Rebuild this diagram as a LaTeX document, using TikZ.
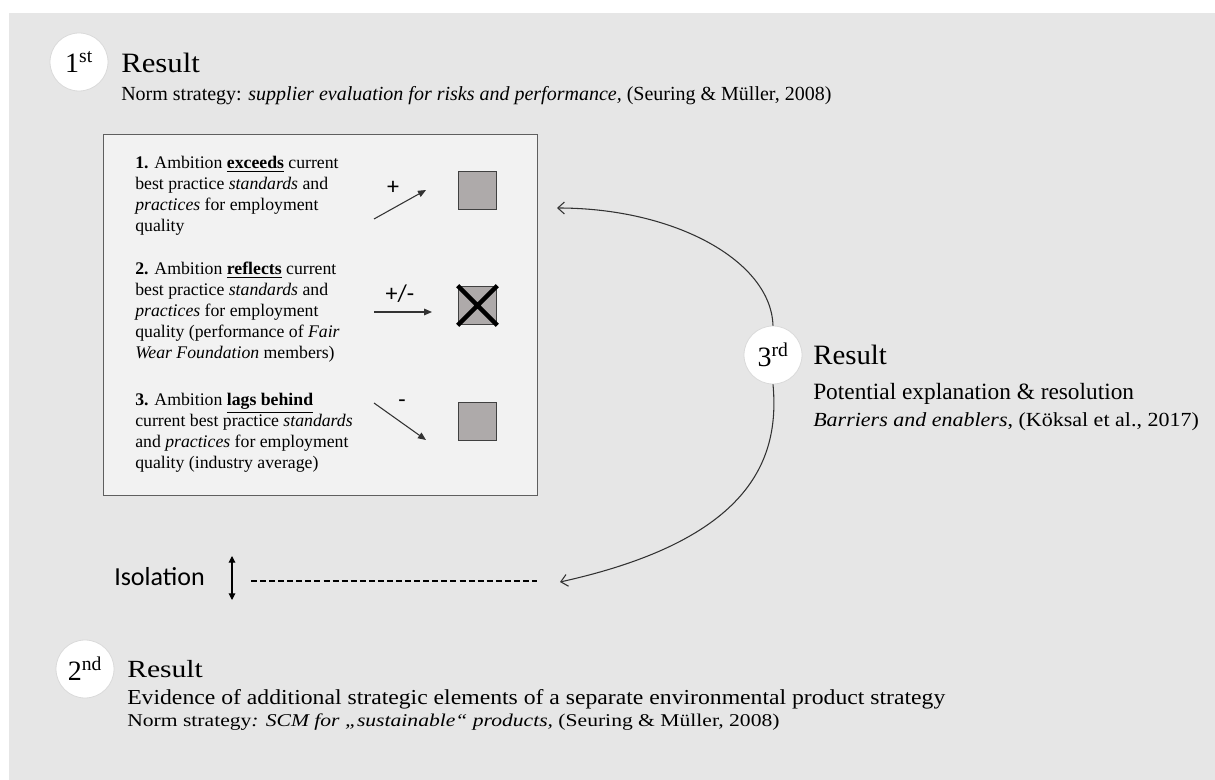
\documentclass[tikz,border=0pt]{standalone}
\usepackage{fontspec}
\setmainfont{Liberation Serif}
\newfontfamily\calib{Carlito}
\usetikzlibrary{arrows.meta}

\definecolor{bggray}{RGB}{230,230,230}
\definecolor{boxfill}{RGB}{242,242,242}
\definecolor{boxline}{RGB}{95,95,95}
\definecolor{sqfill}{RGB}{174,170,170}
\definecolor{sqline}{RGB}{64,64,64}
\definecolor{ringline}{RGB}{218,218,218}
\definecolor{curveline}{RGB}{50,50,50}

% horizontally widened text
\newcommand{\widen}[2]{\scalebox{#1}[1]{#2}}

\begin{document}
\begin{tikzpicture}[x=0.75pt,y=-0.75pt,
  badge/.style={circle,fill=white,draw=ringline,line width=0.6pt,
    minimum size=43.5pt,inner sep=0pt,font=\fontsize{21}{24}\selectfont},
  plain/.style={anchor=base west,inner sep=0pt},
  itemtext/.style={anchor=base west,inner sep=0pt,align=left,
    font=\fontsize{13.3}{15.75}\selectfont},
  rating/.style={draw=sqline,line width=1.2pt,fill=sqfill,minimum size=28.5pt,
    inner sep=0pt},
  sign/.style={inner sep=0pt,font=\calib\fontsize{18}{20}\selectfont},
  trend/.style={draw=black!80,line width=0.8pt,-{Triangle[length=6pt,width=5pt]}},
  loop/.style={draw=curveline,line width=0.8pt,-{Straight Barb[length=5pt,width=9pt]}},
]
\useasboundingbox (0,0) rectangle (1215,780);
\fill[bggray] (9,13) rectangle (1215,780);

% ---- first result ----
\node[badge] (c1) at (79,62) {1\textsuperscript{st}};
\node[plain,font=\fontsize{21}{24}\selectfont] (r1) at (121,73) {\widen{1.1}{Result}};
\node[plain,font=\fontsize{15}{17}\selectfont] (n1) at (121,101)
  {Norm strategy: \textit{supplier evaluation for risks and performance,} (Seuring \& Müller, 2008)};

% ---- ambition box ----
\node[draw=boxline,line width=0.8pt,fill=boxfill,minimum width=325.5pt,
  minimum height=270.75pt,inner sep=0pt,anchor=north west] (box) at (103,134) {};

% each item is placed by the baseline of its last line
\node[itemtext] (i1) at (135,232) {\textbf{1.} Ambition \underline{\textbf{exceeds}} current\\
best practice \textit{standards} and\\
\textit{practices} for employment\\
quality};
\node[itemtext] (i2) at (135,359) {\textbf{2.} Ambition \underline{\textbf{reflects}} current\\
best practice \textit{standards} and\\
\textit{practices} for employment\\
quality (performance of \textit{Fair}\\
\textit{Wear Foundation} members)};
\node[itemtext] (i3) at (135,469) {\textbf{3.} Ambition \underline{\textbf{lags behind}}\\
current best practice \textit{standards}\\
and \textit{practices} for employment\\
quality (industry average)};

\node[rating] (s1) at (477.5,190.5) {};
\node[rating] (s2) at (477.5,305.5) {};
\node[rating] (s3) at (477.5,421.5) {};
\draw[line width=3.2pt,line cap=butt] (s2.north west) -- (s2.south east)
  (s2.north east) -- (s2.south west);

\coordinate (a1s) at (374,219); \coordinate (a1e) at (426,190);
\coordinate (a2s) at (374,312); \coordinate (a2e) at (432,312);
\coordinate (a3s) at (374,403); \coordinate (a3e) at (426,440);
\draw[trend] (a1s) -- (a1e);
\draw[trend] (a2s) -- (a2e);
\draw[trend] (a3s) -- (a3e);
\node[sign] (p1) at (393,188) {+};
\node[sign] (p2) at (400,294) {+/-};
\node[sign] (p3) at (402,404) {-};

% ---- third result ----
\node[badge] (c3) at (773,355) {3\textsuperscript{rd}};
\node[plain,font=\fontsize{21}{24}\selectfont] (r3) at (813,365) {\widen{1.03}{Result}};
\node[plain,font=\fontsize{17.5}{20}\selectfont] (e3) at (813,400) {Potential explanation \& resolution};
\node[plain,font=\fontsize{15}{17}\selectfont] (n3) at (813,427)
  {\widen{1.1}{\textit{Barriers and enablers}, (Köksal et al., 2017)}};

\coordinate (t1) at (557,208);
\coordinate (t2) at (560,582);
\draw[loop] (c3.north) .. controls (771,261) and (675,208) .. (t1);
\draw[loop] (c3.south) .. controls (780,460) and (750,540) .. (t2);

% ---- isolation ----
\node[plain,font=\calib\fontsize{19.5}{22}\selectfont] (iso) at (114,586) {Isolation};
\coordinate (iu) at (232,556); \coordinate (id) at (232,600);
\draw[line width=0.8pt,{Triangle[length=5pt,width=5pt]}-{Triangle[length=5pt,width=5pt]}] (iu) -- (id);
\coordinate (d1) at (251,581); \coordinate (d2) at (537,581);
\draw[line width=1.1pt,dash pattern=on 4.5pt off 2.3pt] (d1) -- (d2);

% ---- second result ----
\node[badge] (c2) at (85,669) {2\textsuperscript{nd}};
\node[plain,font=\fontsize{18.5}{22}\selectfont] (r2) at (127,677) {\widen{1.2}{Result}};
\node[plain,font=\fontsize{16}{19}\selectfont] (e2) at (127,704)
  {\widen{1.11}{Evidence of additional strategic elements of a separate environmental product strategy}};
\node[plain,font=\fontsize{13.5}{16}\selectfont] (n2) at (127,726)
  {\widen{1.2}{Norm strategy\textit{: SCM for „sustainable“ products,} (Seuring \& Müller, 2008)}};
\end{tikzpicture}
\end{document}
